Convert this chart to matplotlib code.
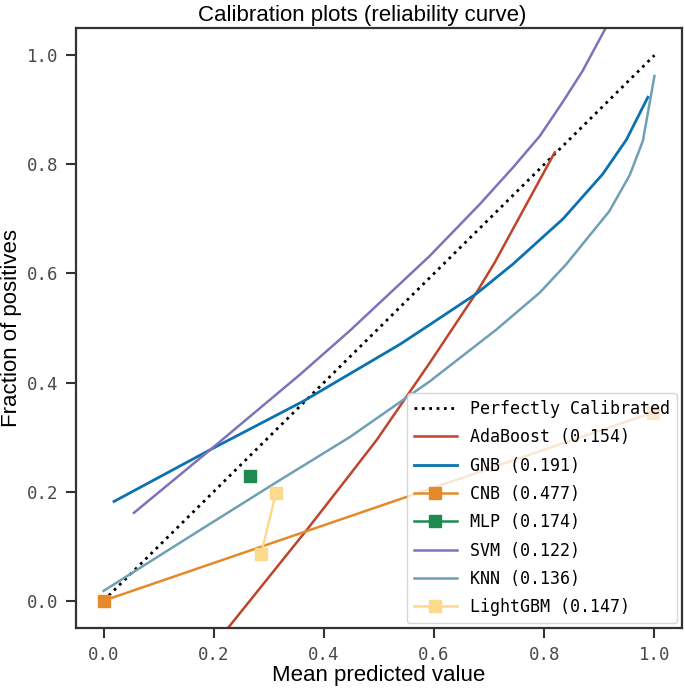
import matplotlib
matplotlib.use("Agg")
import matplotlib.pyplot as plt

# values
perfect_x = [0.0, 1.0]
perfect_y = [0.0, 1.0]

ada_x = [0.21, 0.369, 0.447, 0.496, 0.592, 0.677, 0.710, 0.819]
ada_y = [-0.07, 0.130, 0.231, 0.295, 0.436, 0.565, 0.620, 0.822]

gnb_x = [0.019, 0.194, 0.363, 0.538, 0.592, 0.677, 0.743, 0.834, 0.906, 0.949, 0.988]
gnb_y = [0.182, 0.277, 0.366, 0.470, 0.506, 0.563, 0.617, 0.700, 0.782, 0.845, 0.923]

cnb_x = [0.0, 0.997]
cnb_y = [0.0, 0.345]

mlp_x = [0.265]
mlp_y = [0.228]

svm_x = [0.055, 0.194, 0.357, 0.447, 0.592, 0.683, 0.743, 0.792, 0.834, 0.870, 0.912, 0.93]
svm_y = [0.161, 0.277, 0.415, 0.495, 0.632, 0.727, 0.794, 0.852, 0.915, 0.972, 1.051, 1.085]

knn_x = [0.0, 0.176, 0.315, 0.447, 0.592, 0.713, 0.792, 0.840, 0.918, 0.955, 0.979, 1.0]
knn_y = [0.018, 0.130, 0.218, 0.300, 0.402, 0.497, 0.565, 0.617, 0.714, 0.780, 0.843, 0.962]

lgbm_x = [0.286, 0.313]
lgbm_y = [0.086, 0.198]

labels = ["AdaBoost (0.154)", "GNB (0.191)", "CNB (0.477)", "MLP (0.174)",
          "SVM (0.122)", "KNN (0.136)", "LightGBM (0.147)"]

spine_col = "#333333"
tick_col = "#4a4a4a"
mono = ["DejaVu Sans Mono"]
sans = ["Liberation Sans", "DejaVu Sans"]

fig = plt.figure(figsize=(6.85, 6.91), dpi=100)
ax = fig.add_axes([0.111, 0.0912, 0.8846, 0.8683])

ax.plot(perfect_x, perfect_y, "k:", lw=2, label="Perfectly Calibrated")
ax.plot(ada_x, ada_y, "-", color="#c0432b", lw=1.8, label=labels[0])
ax.plot(gnb_x, gnb_y, "-", color="#0a72b0", lw=2.0, label=labels[1])
ax.plot(cnb_x, cnb_y, "s-", color="#e48a2a", lw=1.8, ms=9, label=labels[2])
ax.plot(mlp_x, mlp_y, "s-", color="#1f8a4f", lw=1.8, ms=9, label=labels[3])
ax.plot(svm_x, svm_y, "-", color="#7f72b8", lw=1.8, label=labels[4])
ax.plot(knn_x, knn_y, "-", color="#6f9fb4", lw=1.8, label=labels[5])
ax.plot(lgbm_x, lgbm_y, "s-", color="#fdd98c", lw=1.8, ms=9, label=labels[6])

ax.set_xlim(-0.05, 1.05)
ax.set_ylim(-0.05, 1.05)
ax.set_xticks([0.0, 0.2, 0.4, 0.6, 0.8, 1.0])
ax.set_yticks([0.0, 0.2, 0.4, 0.6, 0.8, 1.0])

for s in ax.spines.values():
    s.set_color(spine_col)
    s.set_linewidth(1.6)
ax.tick_params(direction="out", length=7, width=1.5, color=spine_col,
               labelcolor=tick_col, labelsize=12.5, pad=6)
for t in ax.get_xticklabels() + ax.get_yticklabels():
    t.set_family(mono)

ax.set_title("Calibration plots (reliability curve)", fontsize=16,
             family=sans, pad=5, x=0.472)
ax.set_xlabel("Mean predicted value", fontsize=16, family=sans, labelpad=1)
ax.set_ylabel("Fraction of positives", fontsize=16, family=sans, labelpad=3)

leg = ax.legend(loc="lower right", prop={"family": mono, "size": 12},
                handlelength=2.6, borderaxespad=0.3, framealpha=0.8,
                fancybox=True, labelspacing=0.62)
leg.get_frame().set_edgecolor("#cccccc")

fig.savefig("out.png", dpi=100)
